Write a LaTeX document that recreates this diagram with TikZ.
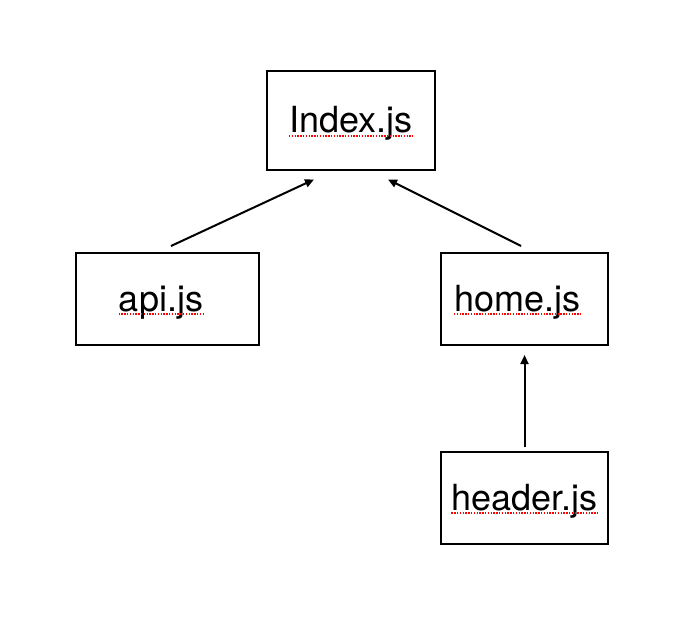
\documentclass[tikz,border=0pt]{standalone}
\usepackage{fontspec}
\setmainfont{TeX Gyre Heros}
\usetikzlibrary{arrows.meta}
\begin{document}
\begin{tikzpicture}[x=0.5pt,y=-0.5pt,
                    file box/.style={draw,line width=1pt,inner sep=0pt},
                    file name/.style={inner sep=0pt,anchor=base,font=\fontsize{18}{21}\selectfont},
                    spell mark/.style={draw=red,line width=0.7pt,dash pattern=on 0.7pt off 0.7pt},
                    dep/.style={line width=1pt,-{Triangle[length=4.5pt,width=4pt]}}
                   ]
  \useasboundingbox (0,0) rectangle (688,635);
  \node[file box,minimum width=84pt,minimum height=49.5pt] (index) at (351,120.5) {};
  \node[file box,minimum width=91.5pt,minimum height=46pt] (api) at (167.5,299) {};
  \node[file box,minimum width=83.5pt,minimum height=46pt] (home) at (524.5,299) {};
  \node[file box,minimum width=83.5pt,minimum height=46pt] (header) at (524.5,498) {};
  \node[file name] (index-text) at (351,133) {Index.js};
  \node[file name] (api-text) at (161,311) {api.js};
  \node[file name] (home-text) at (517.5,311) {home.js};
  \node[file name] (header-text) at (524.5,510) {header.js};
  % red spell-check marks under the names
  \foreach \n in {index,api,home,header}
    \draw[spell mark] ([yshift=-1.5pt]\n-text.base west) -- ([yshift=-1.5pt]\n-text.base east);
  \draw[dep] ([xshift=1.75pt,yshift=3pt]api.north) -- ([xshift=-18.5pt,yshift=-4.25pt]index.south);
  \draw[dep] ([xshift=-1.75pt,yshift=3pt]home.north) -- ([xshift=18.5pt,yshift=-4.25pt]index.south);
  \draw[dep] ([yshift=2pt]header.north) -- ([yshift=-4.5pt]home.south);
\end{tikzpicture}
\end{document}
